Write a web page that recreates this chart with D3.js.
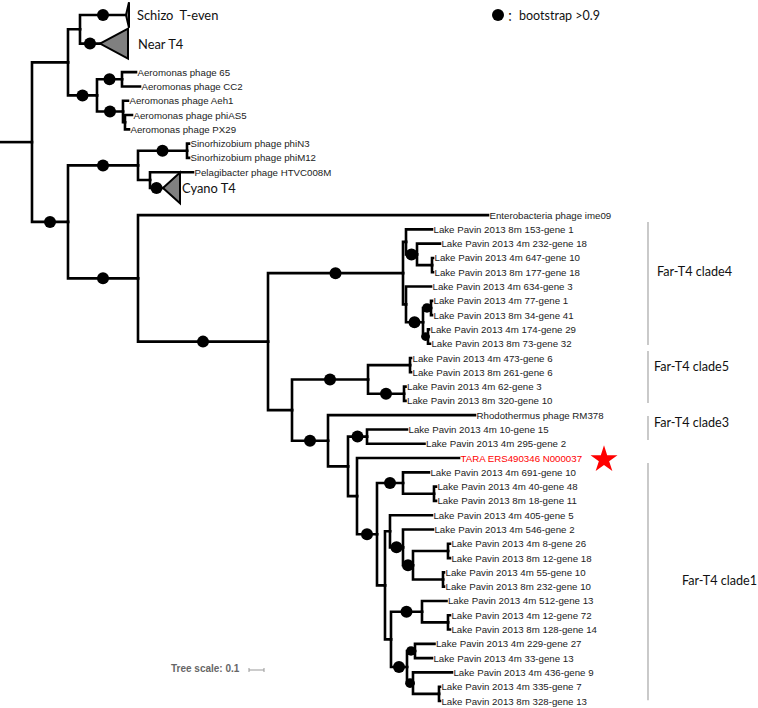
<!DOCTYPE html>
<html><head><meta charset="utf-8">
<script src="https://cdn.jsdelivr.net/npm/d3@7"></script>
<style>body{margin:0;background:#fff}svg{display:block}</style>
</head><body>
<svg id="chart" width="758" height="708"></svg>
<script>
// ---- DATA ----
// Tree topology with branch lengths (substitutions/site) and bootstrap (x100) on internal nodes
const newickLines = [
"((('Schizo  T-even':0.3067,'Near T4':0.1333):0.08,",
" (('Aeromonas phage 65':0.0933,'Aeromonas phage CC2':0.12)100:0.1667,",
"  ('Aeromonas phage Aeh1':0.0333,('Aeromonas phage phiAS5':0.0467,'Aeromonas phage PX29':0.0267):0.0133)100:0.1733)100:0.1933):0.24,",
"((('Sinorhizobium phage phiN3':0.0133,'Sinorhizobium phage phiM12':0.0133)100:0.3267,",
"  ('Pelagibacter phage HTVC008M':0.2867,'Cyano T4':0.0867):0.08)100:0.4667,",
" ('Enterobacteria phage ime09':2.3333,",
"  ((('Lake Pavin 2013 8m 153-gene 1':0.1733,('Lake Pavin 2013 4m 232-gene 18':0.1533,('Lake Pavin 2013 4m 647-gene 10':0.0067,'Lake Pavin 2013 8m 177-gene 18':0.0067):0.1)100:0.0733):0.02,",
"    ('Lake Pavin 2013 4m 634-gene 3':0.1667,(('Lake Pavin 2013 4m 77-gene 1':0.0067,'Lake Pavin 2013 8m 34-gene 41':0.0067)95:0.0533,('Lake Pavin 2013 4m 174-gene 29':0.0067,'Lake Pavin 2013 8m 73-gene 32':0.0133)93:0.0333)100:0.1133):0.02)100:0.9,",
"   ((('Lake Pavin 2013 4m 473-gene 6':0.0067,'Lake Pavin 2013 8m 261-gene 6':0.0067):0.28,('Lake Pavin 2013 4m 62-gene 3':0.01,'Lake Pavin 2013 8m 320-gene 10':0.01)100:0.24)100:0.5067,",
"    ('Rhodothermus phage RM378':0.98,",
"     (('Lake Pavin 2013 4m 10-gene 15':0.2667,'Lake Pavin 2013 4m 295-gene 2':0.3833)100:0.1267,",
"      ('TARA ERS490346 N000037':0.68,",
"       (('Lake Pavin 2013 4m 691-gene 10':0.1733,('Lake Pavin 2013 4m 40-gene 48':0.0133,'Lake Pavin 2013 8m 18-gene 11':0.0133):0.2067)100:0.1733,",
"        (('Lake Pavin 2013 4m 405-gene 5':0.28,('Lake Pavin 2013 4m 546-gene 2':0.2,(('Lake Pavin 2013 4m 8-gene 26':0.0133,'Lake Pavin 2013 8m 12-gene 18':0.0133):0.2333,('Lake Pavin 2013 4m 55-gene 10':0.0067,'Lake Pavin 2013 8m 232-gene 10':0.0067):0.2)100:0.0667)100:0.0867):0.0333,",
"         (('Lake Pavin 2013 4m 512-gene 13':0.1633,('Lake Pavin 2013 4m 12-gene 72':0.0133,'Lake Pavin 2013 8m 128-gene 14':0.0133):0.1733)100:0.2067,",
"          (('Lake Pavin 2013 4m 229-gene 27':0.13,'Lake Pavin 2013 4m 33-gene 13':0.1133)95:0.0533,",
"           ('Lake Pavin 2013 4m 436-gene 9':0.26,('Lake Pavin 2013 4m 335-gene 7':0.0067,'Lake Pavin 2013 8m 328-gene 13':0.0067):0.1733)95:0.04)100:0.1067):0.04):0.0533)100:0.1333):0.06):0.1333)100:0.24):0.16)100:0.8667)100:0.4667)100:0.24):0.2133;"
];
// row index of each leaf (top to bottom)
const leafRows = [0,2,4,5,6,7,8,9,10,11,12.1,14,15,16,17,18,19,20,21,22,23,24,25,26,27,28,29,30,31,32,33,34,35,36,37,38,39,40,41,42,43,44,45,46,47,48];
// collapsed clades
const collapsedNames   = ["Schizo  T-even","Near T4","Cyano T4"];
const collapsedDepth   = [0.02, 0.1867, 0.1133];
const collapsedHalfRow = [0.9, 1.05, 1.08];
const collapsedSupport = [100, 100, 100];
const collapsedLabelGap = [8, 10, 2];
// clade annotations
const cladeNames  = ["Far-T4 clade4","Far-T4 clade5","Far-T4 clade3","Far-T4 clade1"];
const cladeFrom   = [14.49, 23.51, 28.06, 31.35];
const cladeTo     = [23.09, 27.15, 29.74, 47.94];
const cladeLabelRow = [17.98, 24.56, 28.48, 39.54];
const highlightLeaf = "TARA ERS490346 N000037";
const scaleBarValue = 0.1;
const legendText = "bootstrap >0.9";

// ---- PARSE ----
function parseNewick(s){
  s = s.replace(/;\s*$/,"");
  let i=0;
  function node(){
    const n={};
    if(s[i]==='('){
      i++; n.children=[];
      n.children.push(node());
      while(s[i]===','){ i++; while(s[i]===' ')i++; n.children.push(node()); }
      i++; // ')'
    }
    while(s[i]===' ')i++;
    if(s[i]==="'"){ const j=s.indexOf("'",i+1); n.name=s.slice(i+1,j); i=j+1; }
    else { const m=/^[^:,();]*/.exec(s.slice(i))[0]; n.name=m.trim(); i+=m.length; }
    if(s[i]===':'){ i++; const m=/^[0-9.eE+-]+/.exec(s.slice(i))[0]; n.length=+m; i+=m.length; }
    while(s[i]===' ')i++;
    return n;
  }
  return node();
}
const treeData = parseNewick(newickLines.join(""));
const root = d3.hierarchy(treeData);
root.each(d=>{ d.depthLen = (d.parent? d.parent.depthLen:0) + (d.data.length||0); });
const leaves = root.leaves();
leaves.forEach((l,k)=>{ l.row = leafRows[k]; });

const svg = d3.select("#chart");
const maxDepth = d3.max(leaves, d=>d.depthLen);
const x = d3.scaleLinear().domain([0, maxDepth]).range([0, maxDepth*150]);
const y = d3.scaleLinear().domain([0, 48]).range([15, 701]);
root.eachAfter(d=>{
  if(d.children){ d.row = (d.children[0].row + d.children[d.children.length-1].row)/2; }
});
const supportR = d3.scaleLinear().domain([90,100]).range([3.6,6]).clamp(true);

const gLines = svg.append("g").attr("fill","none").attr("stroke","#000").attr("stroke-width",2.6).attr("stroke-linecap","square");
// root stub
gLines.append("path").attr("d", `M${x(0)},${y(root.row)}H${x(root.depthLen)}`).attr("stroke-linecap","butt");
root.descendants().filter(d=>d.parent).forEach(d=>{
  gLines.append("path").attr("d", `M${x(d.parent.depthLen)},${y(d.parent.row)}V${y(d.row)}H${x(d.depthLen)}`);
});

// collapsed triangles
leaves.forEach(l=>{
  const k = collapsedNames.indexOf(l.data.name);
  if(k<0) return;
  const ax=x(l.depthLen), bx=x(l.depthLen+collapsedDepth[k]);
  svg.append("path")
    .attr("d", `M${ax},${y(l.row)}L${bx},${y(l.row-collapsedHalfRow[k])}L${bx},${y(l.row+collapsedHalfRow[k])}Z`)
    .attr("fill","#808080").attr("stroke","#000").attr("stroke-width",2).attr("stroke-linejoin","miter");
  svg.append("text").attr("x", bx+collapsedLabelGap[k]).attr("y", y(l.row))
    .attr("dominant-baseline","central").attr("font-family","Lato, 'Open Sans', sans-serif")
    .attr("font-size",12.9).attr("fill","#111").style("white-space","pre").text(l.data.name);
});

// bootstrap dots
const dots = [];
root.descendants().filter(d=>d.parent).forEach(d=>{
  let sup = null;
  if(d.children && d.data.name!=="" && !isNaN(+d.data.name)) sup=+d.data.name;
  if(!d.children){ const k=collapsedNames.indexOf(d.data.name); if(k>=0) sup=collapsedSupport[k]; }
  if(sup!==null && sup>=90) dots.push({cx:(x(d.parent.depthLen)+x(d.depthLen))/2, cy:y(d.row), r:supportR(sup)});
});
svg.append("g").selectAll("circle").data(dots).join("circle")
  .attr("cx",d=>d.cx).attr("cy",d=>d.cy).attr("r",d=>d.r).attr("fill","#000");

// leaf labels
svg.append("g").selectAll("text").data(leaves.filter(l=>collapsedNames.indexOf(l.data.name)<0)).join("text")
  .attr("x",d=>x(d.depthLen)+1.5).attr("y",d=>y(d.row))
  .attr("dominant-baseline","central")
  .attr("font-family","'Liberation Sans', Arial, sans-serif").attr("font-size",9.7)
  .attr("fill",d=>d.data.name===highlightLeaf?"#ff0000":"#222")
  .text(d=>d.data.name);

// star next to highlighted leaf
const hl = leaves.find(l=>l.data.name===highlightLeaf);
svg.append("path").attr("d", d3.symbol(d3.symbolStar, 226)())
  .attr("transform",`translate(604,${y(hl.row)+1.5})`).attr("fill","#ff0000");

// clade brackets
const cg = svg.append("g");
cladeNames.forEach((n,k)=>{
  cg.append("line").attr("x1",648).attr("x2",648).attr("y1",y(cladeFrom[k])).attr("y2",y(cladeTo[k]))
    .attr("stroke","#a6a6a6").attr("stroke-width",1.2);
  cg.append("text").attr("x", k===3?682:(k===0?657:654)).attr("y",y(cladeLabelRow[k]))
    .attr("dominant-baseline","central").attr("font-family","Lato, 'Open Sans', sans-serif")
    .attr("font-size",12.6).attr("fill","#111").text(n);
});

// legend
svg.append("circle").attr("cx",498).attr("cy",15).attr("r",6).attr("fill","#000");
svg.append("text").attr("x",513).attr("y",15).attr("text-anchor","middle").attr("dominant-baseline","central")
  .attr("font-family","'Noto Sans CJK SC', sans-serif").attr("font-size",12).text("：");
svg.append("text").attr("x",519).attr("y",15).attr("dominant-baseline","central")
  .attr("font-family","Lato, 'Open Sans', sans-serif").attr("font-size",12.5).attr("fill","#111").text(legendText);

// tree scale
const sx0 = 249, sy = 670;
const sLen = x(scaleBarValue)-x(0);
svg.append("text").attr("x",171).attr("y",668).attr("dominant-baseline","central")
  .attr("font-family","'Liberation Sans', Arial, sans-serif").attr("font-weight","bold").attr("font-size",10)
  .attr("fill","#666").text("Tree scale: " + scaleBarValue);
svg.append("path").attr("d",`M${sx0},${sy-2}V${sy+2}M${sx0},${sy}H${sx0+sLen}M${sx0+sLen},${sy-2}V${sy+2}`)
  .attr("stroke","#999").attr("stroke-width",1).attr("fill","none");
</script>
</body></html>
